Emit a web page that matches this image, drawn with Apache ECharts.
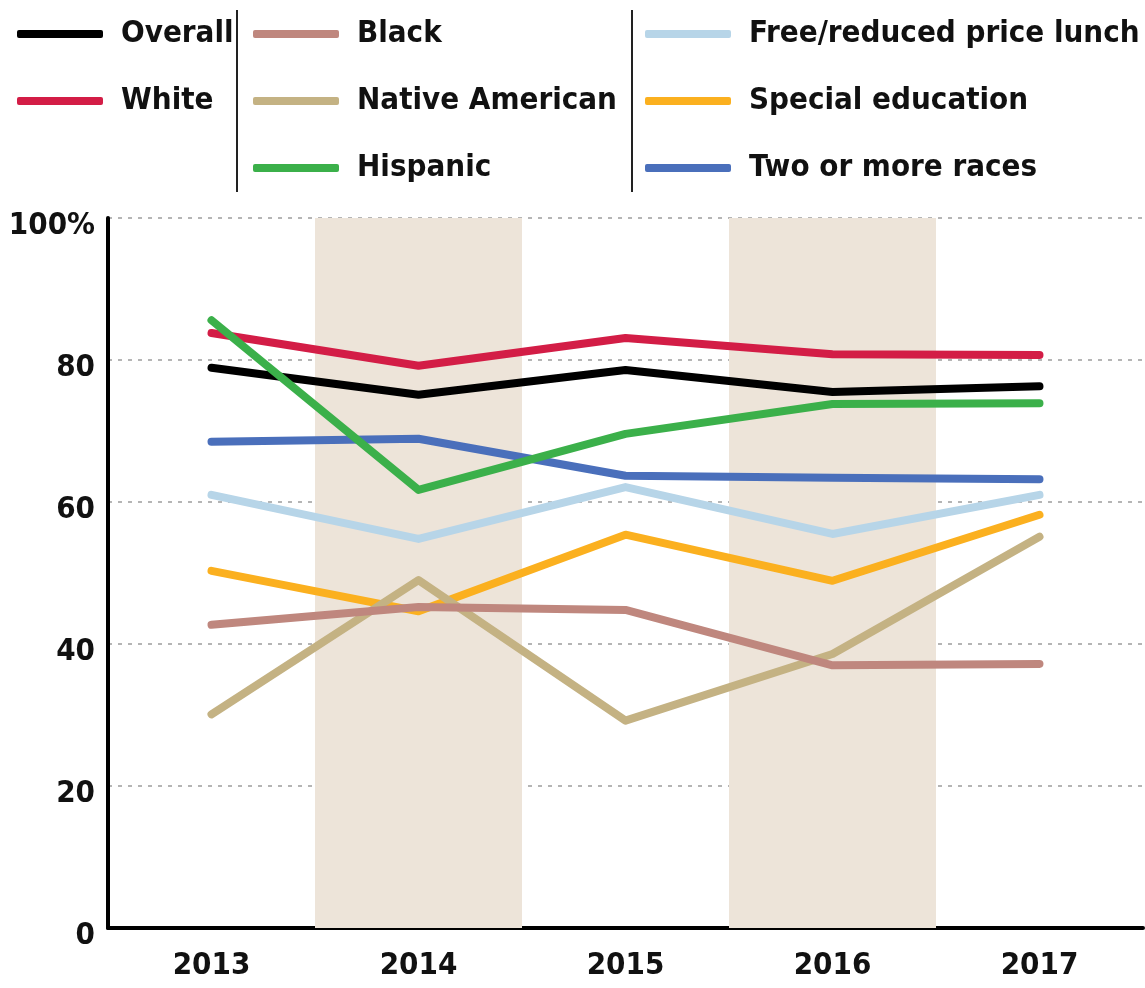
<!DOCTYPE html>
<html>
<head>
<meta charset="utf-8">
<script src="https://cdn.jsdelivr.net/npm/echarts@6/dist/echarts.min.js"></script>
<style>
html,body{margin:0;padding:0;background:#fff;}
#main{width:1145px;height:988px;}
</style>
</head>
<body>
<div id="main"></div>
<script>
var years = ['2013', '2014', '2015', '2016', '2017'];
var yTicks = [0, 20, 40, 60, 80, 100];
var shadedYears = ['2014', '2016'];

var overall      = [78.9, 75.1, 78.6, 75.5, 76.3];
var white        = [83.8, 79.2, 83.1, 80.8, 80.7];
var black        = [42.7, 45.2, 44.8, 37.0, 37.2];
var nativeAm     = [30.1, 49.0, 29.2, 38.6, 55.1];
var hispanic     = [85.6, 61.7, 69.6, 73.8, 73.9];
var freeLunch    = [61.0, 54.8, 62.1, 55.5, 61.0];
var specialEd    = [50.3, 44.6, 55.4, 48.9, 58.2];
var twoOrMore    = [68.5, 68.9, 63.7, 63.4, 63.2];

var FONT = '"Liberation Sans Narrow", "DejaVu Sans Condensed", sans-serif';
var FS = 31;

var seriesDefs = [
  {name: 'Free/reduced price lunch', data: freeLunch, color: '#b7d5e8'},
  {name: 'Special education', data: specialEd, color: '#fbb01f'},
  {name: 'Native American', data: nativeAm, color: '#c4b283'},
  {name: 'Black', data: black, color: '#bf877e'},
  {name: 'Two or more races', data: twoOrMore, color: '#4a6fbb'},
  {name: 'White', data: white, color: '#d31d46'},
  {name: 'Overall', data: overall, color: '#000000'},
  {name: 'Hispanic', data: hispanic, color: '#3bb04a'}
];

var bandData = years.map(function (y) { return shadedYears.indexOf(y) >= 0 ? 100 : null; });

var series = [{
  name: 'band',
  type: 'bar',
  data: bandData,
  barWidth: '100%',
  barCategoryGap: '0%',
  itemStyle: {color: '#ede4d9'},
  silent: true,
  z: 0
}];
seriesDefs.forEach(function (s, i) {
  series.push({
    name: s.name,
    type: 'line',
    data: s.data,
    symbol: 'none',
    lineStyle: {color: s.color, width: 8, cap: 'round', join: 'round'},
    itemStyle: {color: s.color},
    z: 2 + i
  });
});

var legendCommon = {
  orient: 'vertical',
  top: 9,
  itemWidth: 86,
  itemHeight: 8,
  itemGap: 27,
  icon: 'roundRect',
  selectedMode: false,
  textStyle: {
    fontFamily: FONT,
    fontWeight: 'bold',
    fontSize: FS,
    lineHeight: 40,
    color: '#111',
    padding: [0, 0, 0, 13]
  }
};

var option = {
  animation: false,
  backgroundColor: '#ffffff',
  grid: {left: 108, right: 2, top: 218, bottom: 60, containLabel: false, outerBoundsMode: 'none'},
  legend: [
    Object.assign({}, legendCommon, {left: 12, data: ['Overall', 'White']}),
    Object.assign({}, legendCommon, {left: 248, data: ['Black', 'Native American', 'Hispanic']}),
    Object.assign({}, legendCommon, {left: 640, data: ['Free/reduced price lunch', 'Special education', 'Two or more races']})
  ],
  graphic: [
    {type: 'line', shape: {x1: 237, y1: 10, x2: 237, y2: 192}, style: {stroke: '#222', lineWidth: 2}},
    {type: 'line', shape: {x1: 632, y1: 10, x2: 632, y2: 192}, style: {stroke: '#222', lineWidth: 2}}
  ],
  xAxis: {
    type: 'category',
    data: years,
    boundaryGap: true,
    axisLine: {show: true, lineStyle: {color: '#000', width: 4}},
    axisTick: {show: false},
    axisLabel: {
      fontFamily: FONT, fontWeight: 'bold', fontSize: FS, color: '#111', margin: 22
    },
    splitLine: {show: false}
  },
  yAxis: {
    type: 'value',
    min: yTicks[0],
    max: yTicks[yTicks.length - 1],
    interval: 20,
    axisLine: {show: true, lineStyle: {color: '#000', width: 4}},
    axisTick: {show: false},
    axisLabel: {
      fontFamily: FONT, fontWeight: 'bold', fontSize: FS, color: '#111', margin: 13,
      verticalAlign: 'top', lineHeight: 16,
      formatter: function (v) { return v === 100 ? '100%' : String(v); }
    },
    splitLine: {show: true, lineStyle: {color: '#b5b5b5', width: 2, type: [4, 6]}}
  },
  series: series
};

var chart = echarts.init(document.getElementById('main'), null, {renderer: 'canvas'});
chart.setOption(option);
</script>
</body>
</html>
